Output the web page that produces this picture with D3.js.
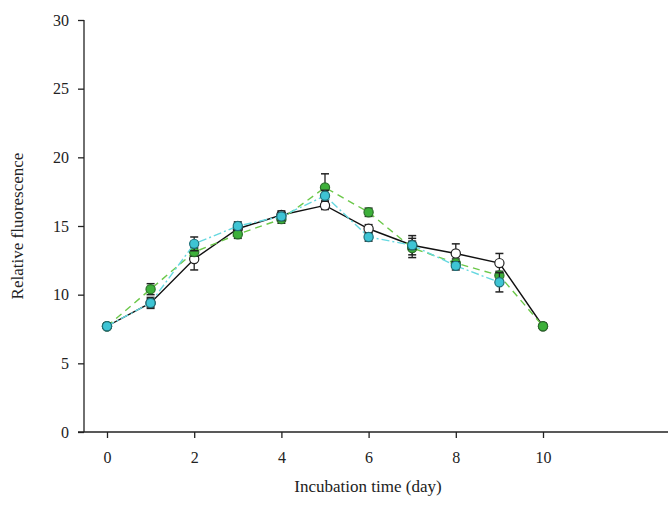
<!DOCTYPE html>
<html><head><meta charset="utf-8">
<script src="https://cdn.jsdelivr.net/npm/d3@7/dist/d3.min.js"></script>
<style>body{margin:0;background:#fff}svg{display:block}</style>
</head><body><svg id="c" width="668" height="508"></svg>
<script>
const days = [0,1,2,3,4,5,6,7,8,9,10];
const blackVals = [7.7,9.4,12.6,14.8,15.8,16.5,14.8,13.6,13.0,12.3,7.7];
const blackErr  = [0.2,0.4,0.8,0.4,0.3,0.3,0.3,0.7,0.7,0.7,0.2];
const greenVals = [7.7,10.4,13.1,14.4,15.5,17.8,16.0,13.4,12.3,11.4,7.7];
const greenErr  = [0.2,0.4,0.3,0.3,0.3,1.0,0.3,0.7,0.3,0.3,0.2];
const cyanDays  = [0,1,2,3,4,5,6,7,8,9];
const cyanVals  = [7.7,9.4,13.7,15.0,15.7,17.2,14.2,13.6,12.1,10.9];
const cyanErr   = [0.2,0.3,0.5,0.3,0.3,0.4,0.3,0.3,0.3,0.7];
const xTicks = [0,2,4,6,8,10];
const yTicks = [0,5,10,15,20,25,30];

const svg = d3.select('#c');
const x = d3.scaleLinear().domain([0,10]).range([107,543]);
const y = d3.scaleLinear().domain([0,30]).range([432,20]);
const font = '"Liberation Serif","Times New Roman",serif';

const ya = svg.append('g').attr('transform','translate(84,0)')
  .call(d3.axisLeft(y).tickValues(yTicks).tickSize(6).tickPadding(9).tickSizeOuter(0));
ya.select('.domain').attr('d','M0,'+y(30)+'V'+y(0));
const xa = svg.append('g').attr('transform','translate(0,432)')
  .call(d3.axisBottom(x).tickValues(xTicks).tickSize(6).tickPadding(14).tickSizeOuter(0));
xa.select('.domain').attr('d','M78,0H668');
svg.selectAll('.tick text').attr('font-family',font).attr('font-size',16).attr('fill','#222');
svg.selectAll('.domain,.tick line').attr('stroke','#222').attr('stroke-width',1.3);

svg.append('text').attr('x',368).attr('y',492).attr('text-anchor','middle')
  .attr('font-family',font).attr('font-size',17).attr('fill','#222').text('Incubation time (day)');
svg.append('text').attr('transform','translate(23,226) rotate(-90)').attr('text-anchor','middle')
  .attr('font-family',font).attr('font-size',17).attr('fill','#222').text('Relative fluorescence');

function series(xs, vals, errs, lineColor, dash, fill, stroke){
  const pts = xs.map((d,i)=>({d, v:vals[i], e:errs[i]}));
  const g = svg.append('g');
  g.append('path').datum(pts)
    .attr('d', d3.line().x(p=>x(p.d)).y(p=>y(p.v)))
    .attr('fill','none').attr('stroke',lineColor).attr('stroke-width',1.4)
    .attr('stroke-dasharray',dash);
  const eb = g.selectAll('.eb').data(pts).join('g');
  eb.append('line').attr('x1',p=>x(p.d)).attr('x2',p=>x(p.d))
    .attr('y1',p=>y(p.v+p.e)).attr('y2',p=>y(p.v-p.e)).attr('stroke','#222').attr('stroke-width',1.3);
  eb.append('line').attr('x1',p=>x(p.d)-4).attr('x2',p=>x(p.d)+4)
    .attr('y1',p=>y(p.v+p.e)).attr('y2',p=>y(p.v+p.e)).attr('stroke','#222').attr('stroke-width',1.5);
  eb.append('line').attr('x1',p=>x(p.d)-4).attr('x2',p=>x(p.d)+4)
    .attr('y1',p=>y(p.v-p.e)).attr('y2',p=>y(p.v-p.e)).attr('stroke','#222').attr('stroke-width',1.5);
  g.selectAll('circle').data(pts).join('circle')
    .attr('cx',p=>x(p.d)).attr('cy',p=>y(p.v)).attr('r',4.6)
    .attr('fill',fill).attr('stroke',stroke).attr('stroke-width',1.2);
}
series(days, blackVals, blackErr, '#111', null, '#fff', '#222');
series(days, greenVals, greenErr, '#6cc84a', '7,5', '#3db03a', '#2a6e2a');
series(cyanDays, cyanVals, cyanErr, '#66d8e0', '8,3,2,3', '#3ec4d4', '#1f6f78');
</script></body></html>
